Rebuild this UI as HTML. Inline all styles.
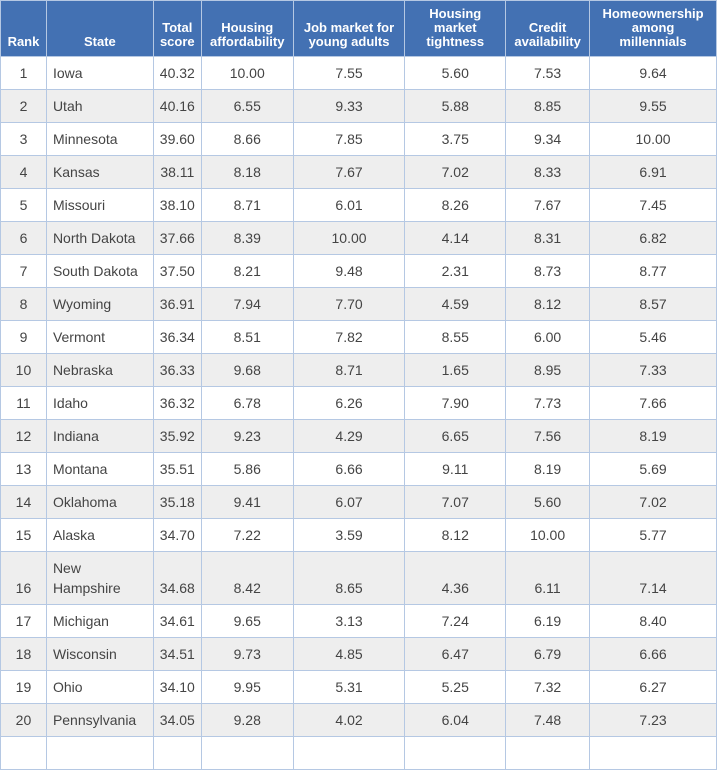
<!DOCTYPE html>
<html><head><meta charset="utf-8"><style>
body{margin:0;background:#fff;width:717px;height:740px;overflow:hidden}
table{border-collapse:collapse;table-layout:fixed;font-family:"Liberation Sans",sans-serif;position:absolute;left:0;top:0}
th{background:#4371b3;color:#fff;font-weight:bold;font-size:13px;line-height:14px;vertical-align:bottom;padding:0 1px 7px;border:1px solid #b5c8e3;height:48px;text-align:center}
td{font-size:14px;color:#444;border:1px solid #b5c8e3;height:32px;padding:0;text-align:center;line-height:20px}
td.s{text-align:left;padding-left:6px}
tr.e td{background:#eeeeee}
tr.t td{height:46px;vertical-align:bottom;padding-bottom:6px}
</style></head><body>
<table>
<colgroup><col style="width:46px"><col style="width:107px"><col style="width:48px"><col style="width:92px"><col style="width:112px"><col style="width:101px"><col style="width:84px"><col style="width:127px"></colgroup>
<tr><th>Rank</th><th>State</th><th>Total<br>score</th><th>Housing<br>affordability</th><th>Job market for<br>young adults</th><th>Housing<br>market<br>tightness</th><th>Credit<br>availability</th><th>Homeownership<br>among<br>millennials</th></tr>
<tr><td>1</td><td class="s">Iowa</td><td>40.32</td><td>10.00</td><td>7.55</td><td>5.60</td><td>7.53</td><td>9.64</td></tr>
<tr class="e"><td>2</td><td class="s">Utah</td><td>40.16</td><td>6.55</td><td>9.33</td><td>5.88</td><td>8.85</td><td>9.55</td></tr>
<tr><td>3</td><td class="s">Minnesota</td><td>39.60</td><td>8.66</td><td>7.85</td><td>3.75</td><td>9.34</td><td>10.00</td></tr>
<tr class="e"><td>4</td><td class="s">Kansas</td><td>38.11</td><td>8.18</td><td>7.67</td><td>7.02</td><td>8.33</td><td>6.91</td></tr>
<tr><td>5</td><td class="s">Missouri</td><td>38.10</td><td>8.71</td><td>6.01</td><td>8.26</td><td>7.67</td><td>7.45</td></tr>
<tr class="e"><td>6</td><td class="s">North Dakota</td><td>37.66</td><td>8.39</td><td>10.00</td><td>4.14</td><td>8.31</td><td>6.82</td></tr>
<tr><td>7</td><td class="s">South Dakota</td><td>37.50</td><td>8.21</td><td>9.48</td><td>2.31</td><td>8.73</td><td>8.77</td></tr>
<tr class="e"><td>8</td><td class="s">Wyoming</td><td>36.91</td><td>7.94</td><td>7.70</td><td>4.59</td><td>8.12</td><td>8.57</td></tr>
<tr><td>9</td><td class="s">Vermont</td><td>36.34</td><td>8.51</td><td>7.82</td><td>8.55</td><td>6.00</td><td>5.46</td></tr>
<tr class="e"><td>10</td><td class="s">Nebraska</td><td>36.33</td><td>9.68</td><td>8.71</td><td>1.65</td><td>8.95</td><td>7.33</td></tr>
<tr><td>11</td><td class="s">Idaho</td><td>36.32</td><td>6.78</td><td>6.26</td><td>7.90</td><td>7.73</td><td>7.66</td></tr>
<tr class="e"><td>12</td><td class="s">Indiana</td><td>35.92</td><td>9.23</td><td>4.29</td><td>6.65</td><td>7.56</td><td>8.19</td></tr>
<tr><td>13</td><td class="s">Montana</td><td>35.51</td><td>5.86</td><td>6.66</td><td>9.11</td><td>8.19</td><td>5.69</td></tr>
<tr class="e"><td>14</td><td class="s">Oklahoma</td><td>35.18</td><td>9.41</td><td>6.07</td><td>7.07</td><td>5.60</td><td>7.02</td></tr>
<tr><td>15</td><td class="s">Alaska</td><td>34.70</td><td>7.22</td><td>3.59</td><td>8.12</td><td>10.00</td><td>5.77</td></tr>
<tr class="e t"><td>16</td><td class="s">New<br>Hampshire</td><td>34.68</td><td>8.42</td><td>8.65</td><td>4.36</td><td>6.11</td><td>7.14</td></tr>
<tr><td>17</td><td class="s">Michigan</td><td>34.61</td><td>9.65</td><td>3.13</td><td>7.24</td><td>6.19</td><td>8.40</td></tr>
<tr class="e"><td>18</td><td class="s">Wisconsin</td><td>34.51</td><td>9.73</td><td>4.85</td><td>6.47</td><td>6.79</td><td>6.66</td></tr>
<tr><td>19</td><td class="s">Ohio</td><td>34.10</td><td>9.95</td><td>5.31</td><td>5.25</td><td>7.32</td><td>6.27</td></tr>
<tr class="e"><td>20</td><td class="s">Pennsylvania</td><td>34.05</td><td>9.28</td><td>4.02</td><td>6.04</td><td>7.48</td><td>7.23</td></tr>
<tr><td></td><td></td><td></td><td></td><td></td><td></td><td></td><td></td></tr>
</table>
</body></html>
